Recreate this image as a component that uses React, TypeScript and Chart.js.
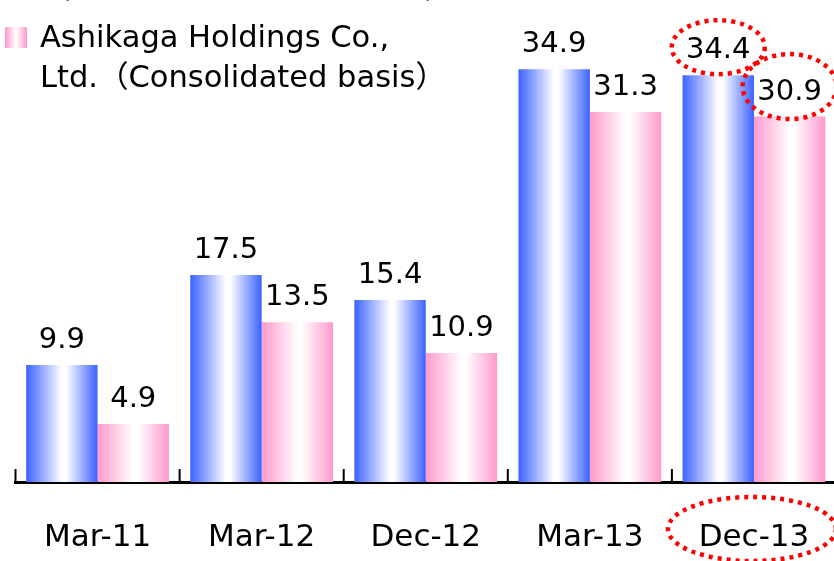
import React, { useEffect, useRef } from 'react';
import { Chart, registerables } from 'chart.js';

Chart.register(...registerables);

const categories = ['Mar-11', 'Mar-12', 'Dec-12', 'Mar-13', 'Dec-13'];
const bankValues = [9.9, 17.5, 15.4, 34.9, 34.4];
const holdingsValues = [4.9, 13.5, 10.9, 31.3, 30.9];
const bankLegend = ['Ashikaga Bank', '（Non-consolidated basis）'];
const holdingsLegend = ['Ashikaga Holdings Co.,', 'Ltd.（Consolidated basis）'];
const highlightIndex = 4;

const FONT = "'DejaVu Sans', 'Noto Sans CJK JP', sans-serif";
const BLUE = '#3c62ff';
const PINK = '#ff99cc';
const CAT_PCT = 0.87;

function barGradient(edge: string, first: boolean) {
  return (ctx: any) => {
    const chart = ctx.chart;
    const xs = chart.scales && chart.scales.x;
    if (!chart.chartArea || !xs || ctx.type !== 'data') return edge;
    const c = xs.getPixelForValue(ctx.dataIndex);
    const cw = xs.width / categories.length;
    const w = (cw * CAT_PCT) / 2;
    const left = first ? c - w : c;
    const right = first ? c : c + w;
    const g = chart.ctx.createLinearGradient(left, 0, right, 0);
    g.addColorStop(0, edge);
    g.addColorStop(0.5, '#ffffff');
    g.addColorStop(0.56, '#ffffff');
    g.addColorStop(1, edge);
    return g;
  };
}

function squareGradient(ctx: CanvasRenderingContext2D, x: number, w: number, edge: string) {
  const g = ctx.createLinearGradient(x, 0, x + w, 0);
  g.addColorStop(0, edge);
  g.addColorStop(0.5, '#ffffff');
  g.addColorStop(1, edge);
  return g;
}

function dottedEllipse(ctx: CanvasRenderingContext2D, cx: number, cy: number, rx: number, ry: number) {
  ctx.save();
  ctx.strokeStyle = '#ff0000';
  ctx.lineWidth = 4.5;
  ctx.setLineDash([4, 5]);
  ctx.beginPath();
  ctx.ellipse(cx, cy, rx, ry, 0, 0, Math.PI * 2);
  ctx.stroke();
  ctx.restore();
}

const decorPlugin = {
  id: 'decor',
  afterDraw(chart: any) {
    const { ctx, chartArea } = chart;
    const xs = chart.scales.x;
    const cw = xs.width / categories.length;
    ctx.save();
    // inside tick marks at category boundaries
    ctx.fillStyle = '#000';
    for (let i = 0; i <= categories.length; i++) {
      const bx = xs.left + i * cw;
      ctx.fillRect(bx - 1, chartArea.bottom - 13, 2, 13);
    }
    // value labels
    ctx.font = `29px ${FONT}`;
    ctx.fillStyle = '#000';
    ctx.textAlign = 'center';
    ctx.textBaseline = 'alphabetic';
    const labelPos: any[][] = [[], []];
    chart.data.datasets.forEach((ds: any, di: number) => {
      const meta = chart.getDatasetMeta(di);
      meta.data.forEach((el: any, i: number) => {
        const y = el.y - 17;
        ctx.fillText(String(ds.data[i].toFixed(1)), el.x, y);
        labelPos[di][i] = { x: el.x, y };
      });
    });
    // legend
    ctx.textAlign = 'left';
    ctx.font = `30.5px ${FONT}`;
    const items = [
      { lines: bankLegend, color: BLUE, base: -42 },
      { lines: holdingsLegend, color: PINK, base: 47 },
    ];
    items.forEach((it) => {
      ctx.fillStyle = squareGradient(ctx, 5, 22, it.color);
      ctx.fillRect(5, it.base - 20, 22, 21);
      ctx.fillStyle = '#000';
      it.lines.forEach((ln, k) => ctx.fillText(ln, 40, it.base + k * 40));
    });
    ctx.restore();
    // highlight ellipses
    const p0 = labelPos[0][highlightIndex];
    const p1 = labelPos[1][highlightIndex];
    dottedEllipse(ctx, p0.x, p0.y - 11, 46.5, 27);
    dottedEllipse(ctx, p1.x, p1.y - 13, 47, 32.5);
    dottedEllipse(ctx, xs.getPixelForValue(highlightIndex) - 2, chartArea.bottom + 47, 84, 32);
  },
};

export default function App() {
  const ref = useRef<HTMLCanvasElement>(null);
  useEffect(() => {
    document.body.style.margin = '0';
    document.body.style.overflow = 'hidden';
    const chart = new Chart(ref.current!, {
      type: 'bar',
      data: {
        labels: categories,
        datasets: [
          {
            label: bankLegend.join(''),
            data: bankValues,
            backgroundColor: barGradient(BLUE, true),
            borderWidth: 0,
            categoryPercentage: CAT_PCT,
            barPercentage: 1,
          },
          {
            label: holdingsLegend.join(''),
            data: holdingsValues,
            backgroundColor: barGradient(PINK, false),
            borderWidth: 0,
            categoryPercentage: CAT_PCT,
            barPercentage: 1,
          },
        ],
      },
      options: {
        animation: false,
        responsive: false,
        maintainAspectRatio: false,
        layout: { padding: { left: 15.5, right: 4, top: 9, bottom: 0 } },
        plugins: { legend: { display: false }, tooltip: { enabled: false } },
        scales: {
          x: {
            type: 'category',
            offset: true,
            grid: { display: false, drawTicks: false },
            border: { display: true, color: '#000', width: 3 },
            ticks: { color: '#000', font: { family: FONT, size: 31 }, padding: 37 },
            afterFit: (s: any) => {
              s.paddingLeft = 0;
              s.paddingRight = 0;
              s.height = 79;
            },
          },
          y: { display: false, min: 0, max: 40 },
        },
      },
      plugins: [decorPlugin],
    });
    return () => chart.destroy();
  }, []);
  return (
    <div style={{ position: 'fixed', left: 0, top: 0, width: 834, height: 561, overflow: 'hidden', background: '#fff' }}>
      <canvas ref={ref} width={840} height={561} style={{ display: 'block', width: 840, height: 561 }} />
    </div>
  );
}
